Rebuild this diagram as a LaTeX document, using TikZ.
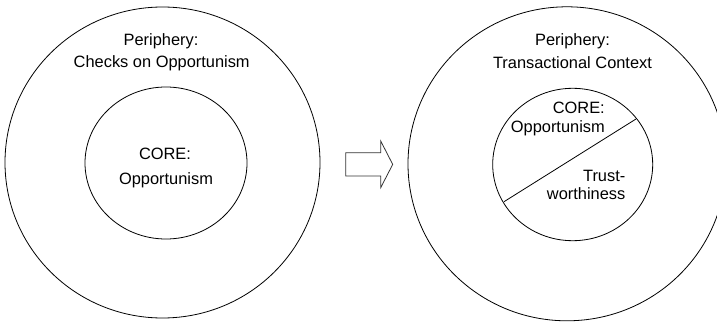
\documentclass[tikz,border=0pt]{standalone}
\usepackage{fontspec}
\setmainfont{Liberation Sans}
\begin{document}
\begin{tikzpicture}[x=1pt,y={(0pt,-1pt)},
  ring/.style={draw=black,line width=0.8pt},
  lbl/.style={inner sep=0pt,font=\fontsize{16.4}{19}\selectfont,text=black},
  blockarrow/.style={draw=black!80,line width=0.8pt,line join=miter}]
\useasboundingbox (0,0) rectangle (717,323);
\clip (0,0) rectangle (717,323);
% left diagram
\draw[ring] (162.5,162.5) ellipse [x radius=157.5, y radius=155.5];
\draw[ring] (166,163) ellipse [x radius=81, y radius=76];
\node[lbl,anchor=base] (lp1) at (161,45.7) {Periphery:};
\node[lbl,anchor=base] (lp2) at (161.7,67.7) {Checks on Opportunism};
\node[lbl,anchor=base] (lc1) at (165,159.3) {CORE:};
\node[lbl,anchor=base] (lc2) at (166,184.5) {Opportunism};
% arrow
\coordinate (a1) at (345.7,152.7);
\coordinate (a2) at (380.7,152.7);
\coordinate (a3) at (380.7,141);
\coordinate (a4) at (392.7,164.4);
\coordinate (a5) at (380.7,187.7);
\coordinate (a6) at (380.7,176);
\coordinate (a7) at (345.7,176);
\draw[blockarrow] (a1) -- (a2) -- (a3) -- (a4) -- (a5) -- (a6) -- (a7) -- cycle;
% right diagram
\draw[ring] (567,163.8) ellipse [x radius=159, y radius=157];
\draw[ring] (572.7,164.5) ellipse [x radius=80, y radius=76.2];
\coordinate (d1) at (504,201.7);
\coordinate (d2) at (636,119);
\draw[ring] (d1) -- (d2);
\node[lbl,anchor=base] (rp1) at (572.5,45.7) {Periphery:};
\node[lbl,anchor=base] (rp2) at (572.5,68.3) {Transactional Context};
\node[lbl,anchor=base east] (rc1) at (605,113.3) {CORE:};
\node[lbl,anchor=base east] (rc2) at (605,132.3) {Opportunism};
\node[lbl,anchor=base east] (rt1) at (625.5,181.7) {Trust-};
\node[lbl,anchor=base east] (rt2) at (625.5,199.5) {worthiness};
\end{tikzpicture}
\end{document}
